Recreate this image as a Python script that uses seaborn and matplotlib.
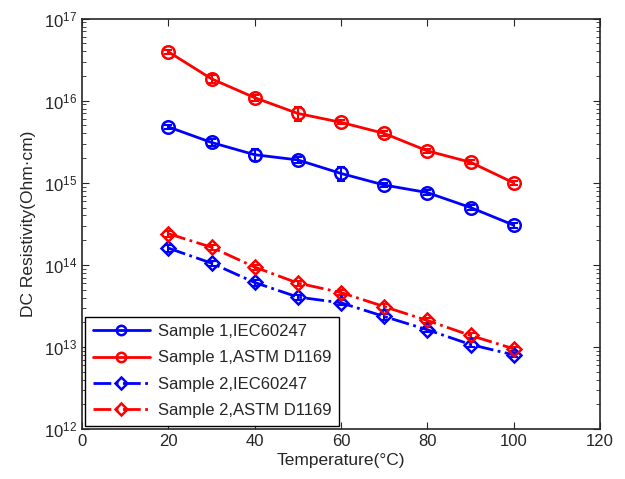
import numpy as np
import pandas as pd
import matplotlib
matplotlib.use("Agg")
import matplotlib.pyplot as plt
import seaborn as sns

temps = [20, 30, 40, 50, 60, 70, 80, 90, 100]

s1_iec = [4.8e15, 3.1e15, 2.2e15, 1.9e15, 1.3e15, 9.4e14, 7.6e14, 5.0e14, 3.05e14]
s1_iec_err = [0.3e15, 0.3e15, 0.35e15, 0.15e15, 0.25e15, 0.06e15, 0.05e15, 0.04e15, 0.02e15]
s1_astm = [3.95e16, 1.85e16, 1.09e16, 7.0e15, 5.45e15, 4.0e15, 2.45e15, 1.78e15, 1.0e15]
s1_astm_err = [0.2e16, 0.2e16, 0.1e16, 1.3e15, 0.3e15, 0.25e15, 0.15e15, 0.1e15, 0.05e15]
s2_iec = [1.6e14, 1.05e14, 6.1e13, 4.05e13, 3.45e13, 2.35e13, 1.62e13, 1.07e13, 8.0e12]
s2_iec_err = [0.15e14, 0.08e14, 0.5e13, 0.3e13, 0.25e13, 0.2e13, 0.12e13, 0.08e13, 0.5e12]
s2_astm = [2.4e14, 1.64e14, 9.4e13, 6.0e13, 4.6e13, 3.1e13, 2.1e13, 1.38e13, 9.5e12]
s2_astm_err = [0.2e14, 0.12e14, 0.7e13, 0.4e13, 0.3e13, 0.25e13, 0.15e13, 0.1e13, 0.6e12]

labels = ["Sample 1,IEC60247", "Sample 1,ASTM D1169", "Sample 2,IEC60247", "Sample 2,ASTM D1169"]

sns.set_style("ticks")
plt.rcParams["font.family"] = ["Liberation Sans", "DejaVu Sans"]

fig = plt.figure(figsize=(6.25, 4.79), dpi=100)
ax = fig.add_axes([0.1312, 0.1044, 0.8288, 0.8566])

series = [
    (s1_iec, s1_iec_err, "blue", "-", "o", 9),
    (s1_astm, s1_astm_err, "red", "-", "o", 9),
    (s2_iec, s2_iec_err, "blue", "-.", "D", 7.5),
    (s2_astm, s2_astm_err, "red", "-.", "D", 7.5),
]

for (vals, errs, col, ls, mk, ms), lab in zip(series, labels):
    df = pd.DataFrame({"T": temps, "R": vals})
    ax.errorbar(temps, vals, yerr=errs, fmt="none", ecolor=col, elinewidth=1.5,
                capsize=3, capthick=1.5, zorder=2)
    sns.lineplot(data=df, x="T", y="R", ax=ax, color=col, linestyle=ls, linewidth=2,
                 marker=mk, markersize=ms, markerfacecolor="none",
                 markeredgecolor=col, markeredgewidth=1.8, label=lab, zorder=3)

ax.set_yscale("log")
ax.set_xlim(0, 120)
ax.set_ylim(1e12, 1e17)
ax.set_xticks(range(0, 121, 20))
ax.set_yticks([1e12, 1e13, 1e14, 1e15, 1e16, 1e17])
ax.tick_params(which="both", direction="in", top=True, right=True, labelsize=12)
ax.tick_params(which="major", length=5)
ax.tick_params(which="minor", length=3)
for sp in ax.spines.values():
    sp.set_linewidth(1.2)

ax.set_xlabel("Temperature(°C)", fontsize=12.5, labelpad=3)
ax.set_ylabel("DC Resistivity(Ohm·cm)", fontsize=12.5, labelpad=6)

leg = ax.legend(loc="lower left", fontsize=12, fancybox=False, framealpha=1,
                edgecolor="black", handlelength=3.4, borderaxespad=0.2,
                labelspacing=0.68, borderpad=0.45, handletextpad=0.5,
                markerscale=0.75)
leg.get_frame().set_linewidth(1)

fig.savefig("out.png", dpi=100)
